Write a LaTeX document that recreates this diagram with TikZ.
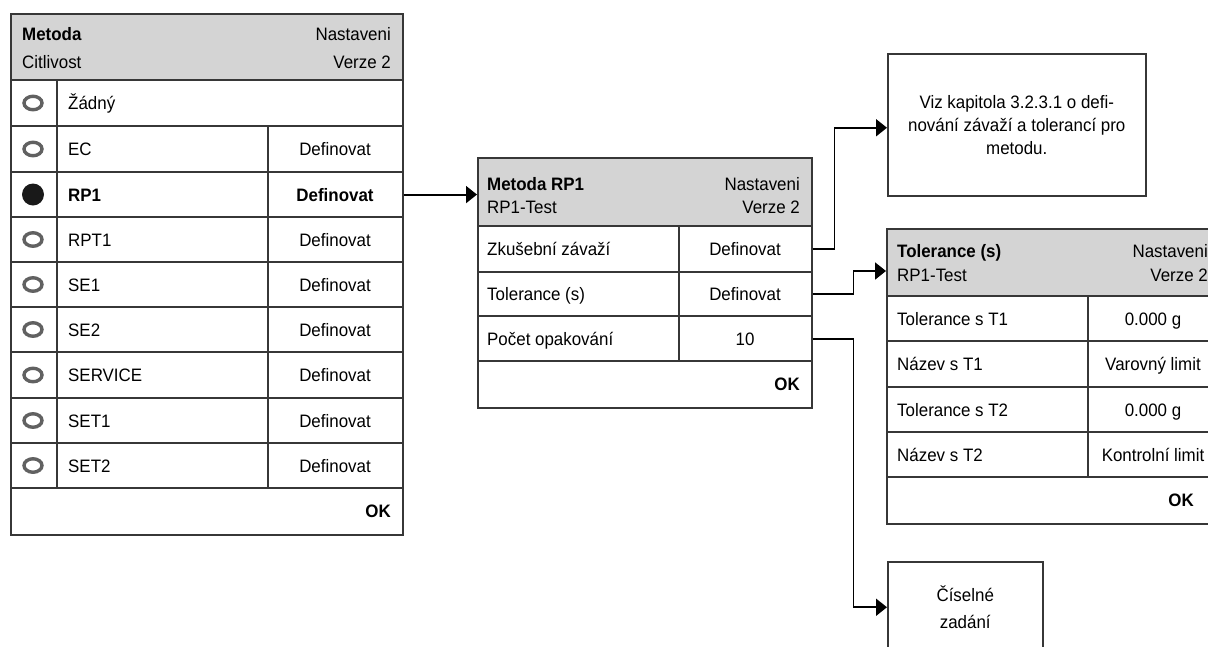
\documentclass[tikz,border=0pt]{standalone}
\usepackage{fontspec}
\setmainfont{Liberation Sans}[FakeStretch=0.94]
\usetikzlibrary{arrows.meta,calc,shapes.geometric}
\definecolor{hdr}{RGB}{212,212,212}
\definecolor{rule}{RGB}{55,55,55}
\begin{document}
\begin{tikzpicture}[x=1pt,y=-1pt,
  panel/.style={draw=rule,line width=1.5pt,anchor=north west,inner sep=0pt},
  grid/.style={draw=rule,line width=1.5pt},
  txt/.style={inner sep=0pt,font=\fontsize{18}{21}\selectfont},
  lt/.style={txt,anchor=base west},
  rt/.style={txt,anchor=base east},
  ct/.style={txt,anchor=base},
  bold/.style={font=\fontsize{18}{21}\selectfont\bfseries},
  radio/.style={shape=ellipse,draw=black!62,line width=3.4pt,minimum width=18pt,minimum height=13.5pt,inner sep=0pt},
  radioon/.style={shape=circle,fill=black!90,minimum size=22pt,inner sep=0pt},
  conn/.style={draw=black,line width=1.9pt,-{Triangle[length=11pt,width=17pt]}},
]
\useasboundingbox (0,0) rectangle (1208,646);
\clip (0,0) rectangle (1208,646);

% ---------- method list ----------
\fill[hdr] (10,13) rectangle (402,80);
\node[panel,minimum width=392pt,minimum height=521pt] (lp) at (10,13) {};
\foreach \y in {80,126,172,217,262,307,352,398,443,488}
  \draw[grid] (10,\y) -- (402,\y);
\draw[grid] (57,80) -- (57,488);
\draw[grid] (268,126) -- (268,488);
\node[lt,bold] (lpt) at (22,40) {Metoda};
\node[lt] (lps) at (22,68) {Citlivost};
\node[rt] (lpr) at (391,40) {Nastaveni};
\node[rt] (lpv) at (391,68) {Verze 2};

\node[radio] (rb1) at (33,103) {};
\node[lt] (l1) at (68,109.5) {Žádný};
\foreach \i/\c/\t in {2/149/EC,4/239.5/RPT1,5/284.5/SE1,6/329.5/SE2,7/375/SERVICE,8/420.5/SET1,9/465.5/SET2}{
  \node[radio] (rb\i) at (33,\c) {};
  \node[lt] (l\i) at (68,\c+6.5) {\t};
  \node[ct] (d\i) at (335,\c+6.5) {Definovat};
}
\node[radioon] (rb3) at (33,194.5) {};
\node[lt,bold] (l3) at (68,201) {RP1};
\node[ct,bold] (d3) at (335,201) {Definovat};
\node[rt,bold] (lok) at (391,517.5) {OK};

% ---------- method RP1 ----------
\fill[hdr] (477,157) rectangle (811,226);
\node[panel,minimum width=334pt,minimum height=250pt] (mp) at (477,157) {};
\foreach \y in {226,272,316,361}
  \draw[grid] (477,\y) -- (811,\y);
\draw[grid] (679,226) -- (679,361);
\node[lt,bold] (mpt) at (487,190) {Metoda RP1};
\node[lt] (mps) at (487,213) {RP1-Test};
\node[rt] (mpr) at (800,190) {Nastaveni};
\node[rt] (mpv) at (800,213) {Verze 2};
\node[lt] (mz) at (487,255.5) {Zkušební závaží};
\node[ct] (mzv) at (745,255.5) {Definovat};
\node[lt] (mt) at (487,300.5) {Tolerance (s)};
\node[ct] (mtv) at (745,300.5) {Definovat};
\node[lt] (mc) at (487,345) {Počet opakování};
\node[ct] (mcv) at (745,345) {10};
\node[rt,bold] (mok) at (800,390.5) {OK};

% ---------- tolerances ----------
\fill[hdr] (886,228) rectangle (1218,296);
\node[panel,minimum width=332pt,minimum height=295pt] (tp) at (886,228) {};
\foreach \y in {296,341,387,432,477}
  \draw[grid] (886,\y) -- (1218,\y);
\draw[grid] (1088,296) -- (1088,477);
\node[lt,bold] (tpt) at (897,257) {Tolerance (s)};
\node[lt] (tps) at (897,281) {RP1-Test};
\node[rt] (tpr) at (1208,257) {Nastaveni};
\node[rt] (tpv) at (1208,281) {Verze 2};
\node[lt] (t1) at (897,325) {Tolerance s T1};
\node[ct] (t1v) at (1153,325) {0.000 g};
\node[lt] (t2) at (897,370.5) {Název s T1};
\node[ct] (t2v) at (1153,370.5) {Varovný limit};
\node[lt] (t3) at (897,416) {Tolerance s T2};
\node[ct] (t3v) at (1153,416) {0.000 g};
\node[lt] (t4) at (897,461) {Název s T2};
\node[ct] (t4v) at (1153,461) {Kontrolní limit};
\node[rt,bold] (tok) at (1194,506.5) {OK};

% ---------- notes ----------
\node[panel,minimum width=258pt,minimum height=142pt,align=center,
      font=\fontsize{18}{23}\selectfont] (note) at (887,53)
  {Viz kapitola 3.2.3.1 o defi-\\nování závaží a tolerancí pro\\metodu.};
\node[panel,minimum width=155pt,minimum height=91pt,align=center,
      font=\fontsize{18}{27}\selectfont] (cis) at (887,561)
  {Číselné\\zadání};

% ---------- connectors ----------
\draw[conn] (d3.east -| lp.east) -- (d3.east -| mp.west);
\draw[conn] (mzv.east -| mp.east) -- ++(22,0) |- ($(note.west)+(0,3)$);
\draw[conn] (mtv.east -| mp.east) -- ++(41,0) |- ($(tp.north west)+(0,43)$);
\draw[conn] (mcv.east -| mp.east) -- ++(41,0) |- (cis.west);
\end{tikzpicture}
\end{document}
